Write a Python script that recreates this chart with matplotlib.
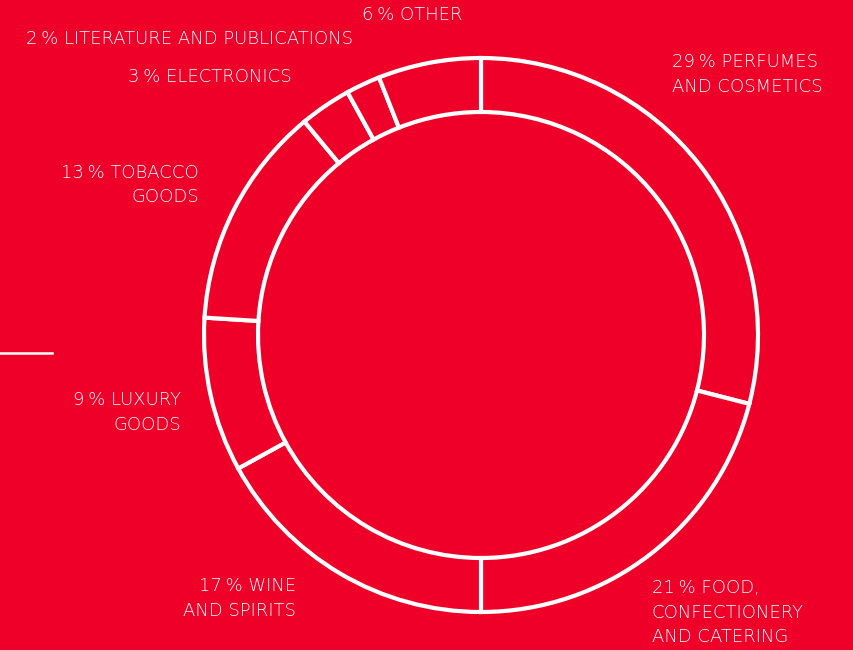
import matplotlib.pyplot as plt
from matplotlib.lines import Line2D

# share of sales by category, clockwise from 12 o'clock
categories = [
    "PERFUMES\nAND COSMETICS",
    "FOOD,\nCONFECTIONERY\nAND CATERING",
    "WINE\nAND SPIRITS",
    "LUXURY\nGOODS",
    "TOBACCO\nGOODS",
    "ELECTRONICS",
    "LITERATURE AND PUBLICATIONS",
    "OTHER",
]
shares = [29, 21, 17, 9, 13, 3, 2, 6]

# label anchors in pixel space (x, first-line y from top, alignment)
label_pos = [
    (672, 62, "left"),
    (652, 588, "left"),
    (296, 586, "right"),
    (181, 400, "right"),
    (199, 173, "right"),
    (292, 77, "right"),
    (353, 39, "right"),
    (412, 15, "center"),
]
LINE_STEP = 24.5

RED = "#ee0028"
W, H = 854, 650

fig = plt.figure(figsize=(W / 100, H / 100), dpi=100, facecolor=RED)
ax = fig.add_axes([0, 0, 1, 1], facecolor=RED)

cx, cy = 481, H - 335
ax.pie(
    shares,
    center=(cx, cy),
    radius=277,
    startangle=90,
    counterclock=False,
    colors=[RED] * len(shares),
    wedgeprops=dict(width=54, edgecolor="white", linewidth=3.0),
)

ax.set_xlim(0, W)
ax.set_ylim(0, H)
ax.set_aspect("equal")
ax.axis("off")

for share, name, (x, y, ha) in zip(shares, categories, label_pos):
    lines = f"{share}\u2009% {name}".split("\n")
    for i, line in enumerate(lines):
        ax.text(x, H - (y + i * LINE_STEP), line, color="white", fontsize=13,
                family="DejaVu Sans", fontweight="light", ha=ha, va="center")

ax.add_line(Line2D([0, 52], [H - 353, H - 353], color="white", linewidth=1.8))

fig.savefig("out.png", dpi=100, facecolor=RED)
